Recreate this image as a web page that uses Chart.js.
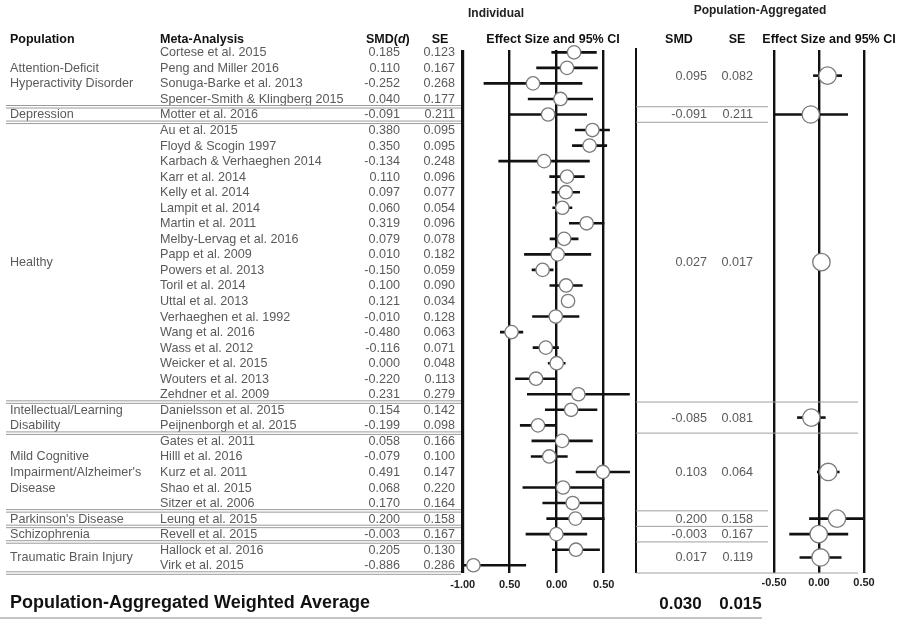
<!DOCTYPE html>
<html><head><meta charset="utf-8">
<script src="https://cdn.jsdelivr.net/npm/chart.js@4.4.1/dist/chart.umd.min.js"></script>
<style>body{margin:0;background:#fff;width:900px;height:624px;overflow:hidden}canvas{position:absolute;left:0;top:0}</style>
</head><body>
<canvas id="c1" width="900" height="624"></canvas>
<canvas id="c2" width="900" height="624"></canvas>
<script>
// ---------- data ----------
const groupLabels = [
  ["Attention-Deficit","Hyperactivity Disorder"],
  ["Depression"],
  ["Healthy"],
  ["Intellectual/Learning","Disability"],
  ["Mild Cognitive","Impairment/Alzheimer's","Disease"],
  ["Parkinson's Disease"],
  ["Schizophrenia"],
  ["Traumatic Brain Injury"]
];
const groupSizes = [4,1,18,2,5,1,1,2];
const studies = [
  "Cortese et al. 2015","Peng and Miller 2016","Sonuga-Barke et al. 2013","Spencer-Smith & Klingberg 2015",
  "Motter et al. 2016",
  "Au et al. 2015","Floyd & Scogin 1997","Karbach & Verhaeghen 2014","Karr et al. 2014","Kelly et al. 2014",
  "Lampit et al. 2014","Martin et al. 2011","Melby-Lervag et al. 2016","Papp et al. 2009","Powers et al. 2013",
  "Toril et al. 2014","Uttal et al. 2013","Verhaeghen et al. 1992","Wang et al. 2016","Wass et al. 2012",
  "Weicker et al. 2015","Wouters et al. 2013","Zehdner et al. 2009",
  "Danielsson et al. 2015","Peijnenborgh et al. 2015",
  "Gates et al. 2011","Hilll et al. 2016","Kurz et al. 2011","Shao et al. 2015","Sitzer et al. 2006",
  "Leung et al. 2015",
  "Revell et al. 2015",
  "Hallock et al. 2016","Virk et al. 2015"
];
const smd = [0.185,0.110,-0.252,0.040,-0.091,0.380,0.350,-0.134,0.110,0.097,0.060,0.319,0.079,0.010,-0.150,
  0.100,0.121,-0.010,-0.480,-0.116,0.000,-0.220,0.231,0.154,-0.199,0.058,-0.079,0.491,0.068,0.170,0.200,-0.003,0.205,-0.886];
const se = [0.123,0.167,0.268,0.177,0.211,0.095,0.095,0.248,0.096,0.077,0.054,0.096,0.078,0.182,0.059,
  0.090,0.034,0.128,0.063,0.071,0.048,0.113,0.279,0.142,0.098,0.166,0.100,0.147,0.220,0.164,0.158,0.167,0.130,0.286];
const aggSMD = [0.095,-0.091,0.027,-0.085,0.103,0.200,-0.003,0.017];
const aggSE  = [0.082,0.211,0.017,0.081,0.064,0.158,0.167,0.119];
const overallSMD = 0.030, overallSE = 0.015;
const indTickValues = [-1,-0.5,0,0.5];
const indTickLabels = ["-1.00","0.50","0.00","0.50"];
const aggTickValues = [-0.5,0,0.5];
const aggTickLabels = ["-0.50","0.00","0.50"];

// ---------- helpers ----------
const FONT = '"Liberation Sans", Arial, sans-serif';
const TXT = '#5a5a5a';
const clamp = (v,a,b)=>Math.max(a,Math.min(b,v));
const fmt = v => v.toFixed(3);
const groupStart = []; { let s=0; groupSizes.forEach(n=>{groupStart.push(s); s+=n;}); }
const groupCenter = groupSizes.map((n,g)=>groupStart[g]+(n-1)/2);
const Y_MIN = -0.15, Y_MAX = 33.5;
const IND_MIN = -1, IND_MAX = 0.844, AGG_MIN = -0.5, AGG_MAX = 0.5;

function ciDatasets(vals, ses, ys, lo, hi){
  return vals.map((v,i)=>({
    type:'scatter', showLine:true, order:1,
    data:[{x:clamp(v-1.96*ses[i],lo,hi), y:ys[i]},{x:clamp(v+1.96*ses[i],lo,hi), y:ys[i]}],
    borderColor:'#111', borderWidth:2.6, pointRadius:0, borderCapStyle:'butt'
  }));
}
function pointDataset(vals, ys, r){
  return {type:'scatter', order:0, showLine:false, clip:false,
    data: vals.map((v,i)=>({x:v,y:ys[i]})),
    pointRadius:r, pointBackgroundColor:'#fff', pointBorderColor:'#7a7a7a', pointBorderWidth:1.3};
}
function txt(ctx,s,x,y,font,color,align){
  ctx.font=font; ctx.fillStyle=color; ctx.textAlign=align||'left'; ctx.textBaseline='middle'; ctx.fillText(s,x,y);
}
function hline(ctx,x1,x2,y,color,w){
  ctx.beginPath(); ctx.strokeStyle=color; ctx.lineWidth=w; ctx.moveTo(x1,y); ctx.lineTo(x2,y); ctx.stroke();
}
function doubleLine(ctx,x1,x2,y){ hline(ctx,x1,x2,y-1.2,'#9a9a9a',1); hline(ctx,x1,x2,y+1.3,'#9a9a9a',1); }

const baseOpts = (xmin,xmax,tv,tl,padL,padR,tickPad,gridW)=>({
  responsive:false, animation:false, devicePixelRatio:1,
  events:[],
  layout:{padding:{left:padL,right:padR,top:50,bottom:0}},
  plugins:{legend:{display:false},tooltip:{enabled:false}},
  scales:{
    x:{type:'linear',min:xmin,max:xmax,
      afterBuildTicks:s=>{s.ticks=tv.map(v=>({value:v}));},
      afterFit:s=>{s.height=51;},
      ticks:{callback:(v,i)=>tl[i],font:{family:FONT,size:11,weight:'bold'},color:'#222',padding:tickPad,maxRotation:0,autoSkip:false},
      grid:{color:'#111',lineWidth:(c)=>c.index===0&&gridW?gridW:2.4,drawTicks:false},
      border:{display:false}},
    y:{type:'linear',min:Y_MIN,max:Y_MAX,reverse:true,display:false}
  }
});

const HB = 'bold 12.5px '+FONT;
const TF = '12.6px '+FONT;

// ---------- chart 1: table + individual effects ----------
const rows = studies.map((_,i)=>i);
const tablePlugin = {
  id:'table',
  afterDraw(chart){
    const ctx=chart.ctx, ys=chart.scales.y, ca=chart.chartArea;
    const Y = v=>ys.getPixelForValue(v);
    ctx.save();
    // right frame line of individual panel
    ctx.beginPath(); ctx.strokeStyle='#111'; ctx.lineWidth=2; ctx.moveTo(ca.right,ca.top-2); ctx.lineTo(ca.right,ca.bottom); ctx.stroke();
    // titles
    txt(ctx,'Individual',496,14,'bold 12px '+FONT,'#222','center');
    txt(ctx,'Population',10,40,HB,'#111');
    txt(ctx,'Meta-Analysis',160,40,HB,'#111');
    // SMD(d) with italic d
    ctx.font=HB; let x0=366; ctx.fillStyle='#111'; ctx.textAlign='left'; ctx.textBaseline='middle';
    ctx.fillText('SMD(',x0,40); x0+=ctx.measureText('SMD(').width;
    ctx.font='italic bold 12.5px '+FONT; ctx.fillText('d',x0,40); x0+=ctx.measureText('d').width;
    ctx.font=HB; ctx.fillText(')',x0,40);
    txt(ctx,'SE',440,40,HB,'#111','center');
    txt(ctx,'Effect Size and 95% CI',553,40,HB,'#111','center');
    // rows
    studies.forEach((s,i)=>{
      const y=Y(i)+0.5;
      txt(ctx,s,160,y,TF,TXT);
      txt(ctx,fmt(smd[i]),400,y,TF,TXT,'right');
      txt(ctx,fmt(se[i]),455,y,TF,TXT,'right');
    });
    // group labels
    groupLabels.forEach((lines,g)=>{
      const c=groupCenter[g]; const n=lines.length;
      lines.forEach((l,k)=>txt(ctx,l,10,Y(c-(n-1)/2+k)+0.5,TF,TXT));
    });
    // separators
    groupSizes.forEach((n,g)=>{ doubleLine(ctx,6,461,Y(groupStart[g]+n-0.5)); });
    // bottom title
    txt(ctx,'Population-Aggregated Weighted Average',10,603,'bold 18px '+FONT,'#111');
    hline(ctx,0,762,618,'#c4c4c4',2);
    ctx.restore();
  }
};
new Chart(document.getElementById('c1'),{
  type:'scatter',
  data:{datasets:[pointDataset(smd,rows,6.7), ...ciDatasets(smd,se,rows,IND_MIN,IND_MAX)]},
  options:baseOpts(IND_MIN,IND_MAX,indTickValues,indTickLabels,462.7,264,5,3.2),
  plugins:[tablePlugin]
});

// ---------- chart 2: population-aggregated ----------
const aggPlugin = {
  id:'agg',
  afterDraw(chart){
    const ctx=chart.ctx, ys=chart.scales.y;
    const Y=v=>ys.getPixelForValue(v);
    ctx.save();
    txt(ctx,'Population-Aggregated',760,11,'bold 12px '+FONT,'#222','center');
    txt(ctx,'SMD',679,40,HB,'#111','center');
    txt(ctx,'SE',737,40,HB,'#111','center');
    txt(ctx,'Effect Size and 95% CI',829,40,HB,'#111','center');
    aggSMD.forEach((v,g)=>{
      const y=Y(groupCenter[g])+0.5;
      txt(ctx,fmt(v),707,y,TF,TXT,'right');
      txt(ctx,fmt(aggSE[g]),753,y,TF,TXT,'right');
    });
    // separators
    const wide=[false,false,true,true,false,false,false,true];
    groupSizes.forEach((n,g)=>{
      hline(ctx,636,wide[g]?858:768,Y(groupStart[g]+n-0.5),'#a0a0a0',1);
    });
    txt(ctx,fmt(overallSMD),680.5,604,'bold 17px '+FONT,'#111','center');
    txt(ctx,fmt(overallSE),740.5,604,'bold 17px '+FONT,'#111','center');
    ctx.restore();
  }
};
new Chart(document.getElementById('c2'),{
  type:'scatter',
  data:{datasets:[pointDataset(aggSMD,groupCenter,8.7), ...ciDatasets(aggSMD,aggSE,groupCenter,AGG_MIN,AGG_MAX)]},
  options:baseOpts(AGG_MIN,AGG_MAX,aggTickValues,aggTickLabels,774,36,3,0),
  plugins:[aggPlugin]
});
</script>
</body></html>
